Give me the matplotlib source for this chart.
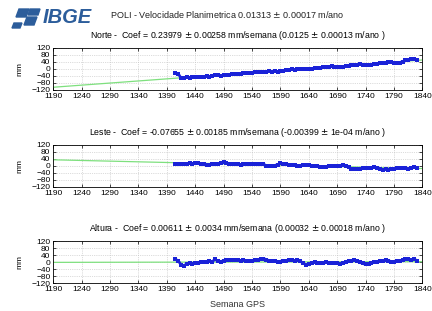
import numpy as np
import matplotlib
matplotlib.use("Agg")
import matplotlib.pyplot as plt
from matplotlib.patches import Polygon

plt.rcParams['font.family'] = ['Liberation Sans', 'DejaVu Sans']

# valores (mm), uma amostra a cada 5 semanas a partir de 1405
semana_ini = 1405
norte = [-25, -27, -52, -50, -47, -50, -46, -48, -47, -44, -46, -43, -45, -40, -36, -35,
         -38, -36, -35, -33, -32, -30, -31, -28, -25, -26, -22, -24, -20, -18, -19, -16,
         -18, -14, -15, -12, -16, -14, -10, -8, -6, -2, -4, 0, -2, -3, 0, 2, 0, 4, 5, 6,
         8, 10, 12, 14, 10, 8, 9, 12, 14, 18, 20, 22, 24, 26, 22, 20, 21, 24, 28, 30, 32,
         35, 36, 38, 37, 33, 32, 36, 42, 48, 52, 54, 55, 52]
leste = [10, 12, 10, 13, 12, 14, 13, 15, 14, 12, 13, 8, 6, 9, 12, 10, 14, 20, 16, 12, 10,
         11, 9, 8, 10, 12, 11, 10, 12, 13, 11, 10, 2, 0, -2, 2, 8, 14, 12, 10, 6, 3, 5, 2,
         0, 4, 6, 5, 2, -2, 0, -4, -8, -6, -3, -2, 0, 2, 0, 4, 2, -8, -18, -20, -17, -16,
         -14, -12, -10, -12, -8, -14, -18, -22, -20, -22, -18, -16, -14, -12, -10, -14,
         -16, -12, -8, -10]
altura = [15, 8, -15, -22, -10, -8, -10, -6, -8, -2, 2, 0, 4, 2, 16, 4, 2, 8, 10, 14, 12,
          10, 13, 8, 10, 4, 6, 8, 10, 12, 16, 20, 14, 8, 6, 4, 2, 0, 4, 6, 10, 12, 8, 10,
          4, -6, -16, -12, -6, -2, -6, -4, -8, -2, -6, -4, -8, -6, -10, -4, -2, 4, 6, 14,
          4, -2, -8, -14, -10, -6, -2, 0, 6, 4, 14, 8, 2, 0, 6, 4, 10, 16, 18, 14, 18, 8]

# retas ajustadas (extremos)
ajuste_x = [1190, 1840]
ajuste_norte = [-105, 51]
ajuste_leste = [35, -15]
ajuste_altura = [-2, 2]

titulo = "POLI - Velocidade Planimetrica 0.01313 $\\pm$ 0.00017 m/ano"
subtitulos = [
    "Norte -  Coef = 0.23979 $\\pm$ 0.00258 mm/semana (0.0125 $\\pm$ 0.00013 m/ano )",
    "Leste -  Coef = -0.07655 $\\pm$ 0.00185 mm/semana (-0.00399 $\\pm$ 1e-04 m/ano )",
    "Altura -  Coef = 0.00611 $\\pm$ 0.0034 mm/semana (0.00032 $\\pm$ 0.00018 m/ano )",
]
xticks = list(range(1190, 1841, 50))
yticks = [120, 80, 40, 0, -40, -80, -120]

series = [norte, leste, altura]
ajustes = [ajuste_norte, ajuste_leste, ajuste_altura]

fig = plt.figure(figsize=(4.32, 3.11), dpi=100)
fig.patch.set_facecolor('white')

bottoms = [0.711, 0.399, 0.090]
for i in range(3):
    ax = fig.add_axes([0.123, bottoms[i], 0.855, 0.135])
    ys = series[i]
    xs = np.arange(semana_ini, semana_ini + 5 * len(ys), 5)
    ax.plot(ajuste_x, ajustes[i], color='#7ee07e', lw=0.9, zorder=2)
    ax.plot(xs, ys, color='#1a22d8', lw=2.0, marker='s', ms=2.6, mew=0, zorder=3)
    ax.set_xlim(1190, 1840)
    ax.set_ylim(-120, 120)
    ax.set_xticks(xticks)
    ax.set_yticks(yticks)
    ax.tick_params(labelsize=6, direction='in', length=2.5, width=0.5,
                   top=True, right=True, pad=2)
    ax.grid(True, color='#bbbbbb', ls=':', lw=0.5)
    for s in ax.spines.values():
        s.set_linewidth(0.6)
    ax.set_ylabel('mm', fontsize=6, labelpad=6)
    ax.set_title(subtitulos[i], fontsize=6.3, pad=7, x=0.5)

fig.text(0.55, 0.022, "Semana GPS", ha='center', va='center', fontsize=6.5, color='#333333')
fig.text(0.525, 0.952, titulo, ha='center', va='center', fontsize=6.5, color='#222222')

# logotipo
azul = '#2c5d9b'
fig.text(0.098, 0.945, "IBGE", ha='left', va='center', fontsize=14.5, fontweight='bold',
         style='italic', color=azul)
for pts in ([(16, 294), (26, 294), (29, 302), (19, 302)],
            [(27, 294), (37, 294), (34, 286), (24, 286)],
            [(14, 288), (22, 288), (20, 283), (12, 283)],
            [(30, 302), (40, 302), (38, 296), (28, 296)]):
    fig.patches.append(Polygon([(x / 432, y / 311) for x, y in pts], closed=True,
                               transform=fig.transFigure, color=azul))

fig.savefig("out.png", dpi=100)
